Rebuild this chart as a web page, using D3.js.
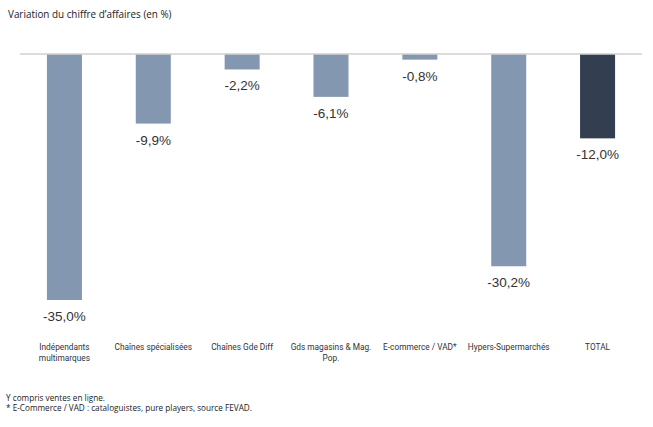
<!DOCTYPE html>
<html>
<head>
<meta charset="utf-8">
<script src="https://cdn.jsdelivr.net/npm/d3@7"></script>
<style>
  body { margin: 0; background: #fff; }
  svg { display: block; }
</style>
</head>
<body>
<svg id="chart" width="653" height="427"></svg>
<script>
// data
const categories = [
  "Indépendants|multimarques",
  "Chaînes spécialisées",
  "Chaînes Gde Diff",
  "Gds magasins & Mag.|Pop.",
  "E-commerce / VAD*",
  "Hypers-Supermarchés",
  "TOTAL"
];
const values = [-35.0, -9.9, -2.2, -6.1, -0.8, -30.2, -12.0];
const valueLabels = ["-35,0%", "-9,9%", "-2,2%", "-6,1%", "-0,8%", "-30,2%", "-12,0%"];
const notes = [
  "Y compris ventes en ligne.",
  "* E-Commerce / VAD : cataloguistes, pure players, source FEVAD."
];

const width = 653, height = 427;
const plotLeft = 20, plotRight = 642, plotTop = 54, plotBottom = 300;

const svg = d3.select("#chart");

const x = d3.scaleBand()
  .domain(categories)
  .range([plotLeft, plotRight])
  .paddingInner(0.606)
  .paddingOuter(0.303);

const y = d3.scaleLinear()
  .domain([0, -35])
  .range([plotTop, plotBottom]);

// title
svg.append("text")
  .attr("x", 8).attr("y", 18)
  .attr("font-family", "Open Sans, sans-serif")
  .attr("font-size", 9.9)
  .attr("fill", "#222")
  .text("Variation du chiffre d’affaires (en %)");

// bars
svg.selectAll(".bar")
  .data(values)
  .enter().append("rect")
  .attr("class", "bar")
  .attr("x", (d, i) => x(categories[i]))
  .attr("y", y(0))
  .attr("width", x.bandwidth())
  .attr("height", d => y(d) - y(0))
  .attr("fill", (d, i) => i === values.length - 1 ? "#333f50" : "#8497b0");

// baseline
svg.append("line")
  .attr("x1", plotLeft).attr("x2", plotRight)
  .attr("y1", y(0)).attr("y2", y(0))
  .attr("stroke", "#d0d0d0")
  .attr("stroke-width", 1.5);

// value labels
svg.selectAll(".val")
  .data(values)
  .enter().append("text")
  .attr("x", (d, i) => x(categories[i]) + x.bandwidth() / 2)
  .attr("y", d => y(d) + 21)
  .attr("text-anchor", "middle")
  .attr("font-family", "Liberation Sans, Arial, sans-serif")
  .attr("font-size", 13.5)
  .attr("fill", "#333")
  .text((d, i) => valueLabels[i]);

// category labels
const cat = svg.selectAll(".cat")
  .data(categories)
  .enter().append("text")
  .attr("text-anchor", "middle")
  .attr("font-family", "Roboto, sans-serif")
  .attr("font-size", 8.3)
  .attr("fill", "#333");

cat.selectAll("tspan")
  .data(d => d.split("|").map(t => ({ t, c: d })))
  .enter().append("tspan")
  .attr("x", d => x(d.c) + x.bandwidth() / 2)
  .attr("y", (d, i) => 350 + i * 11)
  .text(d => d.t);

// footnotes
svg.selectAll(".note")
  .data(notes)
  .enter().append("text")
  .attr("x", 6)
  .attr("y", (d, i) => 401 + i * 10)
  .attr("font-family", "Open Sans, sans-serif")
  .attr("font-size", 8.2)
  .attr("fill", "#222")
  .text(d => d);
</script>
</body>
</html>
